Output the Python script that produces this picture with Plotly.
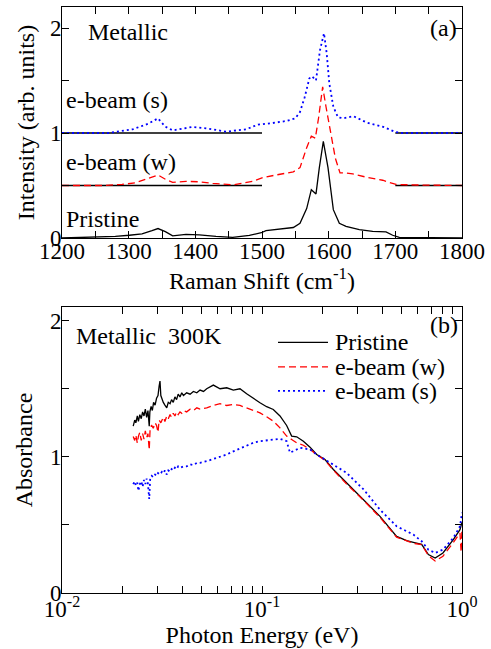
import plotly.graph_objects as go

# ---------------- Panel (a): Raman spectra (offset) ----------------
pristine_raman_x = [1200, 1250, 1280, 1301, 1320, 1335, 1344, 1355, 1366, 1386, 1406, 1431, 1456, 1481, 1499, 1506, 1521, 1541, 1547, 1557, 1567, 1574, 1581, 1586, 1592, 1599, 1607, 1616, 1626, 1646, 1666, 1686, 1696, 1706, 1756, 1800]
pristine_raman_y = [0.0, 0.005, 0.015, 0.026, 0.04, 0.07, 0.09, 0.06, 0.02, 0.035, 0.03, 0.015, 0.006, 0.026, 0.05, 0.07, 0.08, 0.09, 0.10, 0.14, 0.28, 0.46, 0.42, 0.67, 0.92, 0.67, 0.27, 0.14, 0.11, 0.08, 0.064, 0.058, 0.026, 0.006, 0.0, 0.0]

weak_raman_x = [1200, 1260, 1290, 1310, 1330, 1344, 1355, 1366, 1386, 1406, 1426, 1456, 1486, 1501, 1521, 1547, 1557, 1567, 1574, 1580, 1585, 1591, 1596, 1602, 1610, 1617, 1626, 1636, 1656, 1681, 1701, 1731, 1800]
weak_raman_y = [0.5, 0.5, 0.51, 0.525, 0.57, 0.60, 0.56, 0.53, 0.54, 0.535, 0.52, 0.506, 0.54, 0.575, 0.60, 0.63, 0.67, 0.86, 0.97, 0.95, 1.15, 1.44, 1.25, 1.05, 0.76, 0.62, 0.62, 0.61, 0.58, 0.55, 0.51, 0.505, 0.5]

strong_raman_x = [1200, 1270, 1306, 1330, 1344, 1355, 1366, 1381, 1396, 1416, 1446, 1476, 1494, 1516, 1537, 1550, 1557, 1564, 1571, 1575, 1581, 1587, 1593, 1597, 1601, 1607, 1614, 1622, 1637, 1657, 1682, 1700, 1710, 1800]
strong_raman_y = [1.0, 1.0, 1.035, 1.09, 1.14, 1.06, 1.025, 1.04, 1.058, 1.045, 1.013, 1.035, 1.08, 1.095, 1.115, 1.14, 1.20, 1.34, 1.52, 1.54, 1.50, 1.79, 1.95, 1.76, 1.47, 1.25, 1.15, 1.14, 1.16, 1.10, 1.058, 1.01, 1.0, 1.0]

baseline_x = [1200, 1500, None, 1700, 1800]
baseline_levels = [1.0, 0.5]

raman_ticks = [1200, 1300, 1400, 1500, 1600, 1700, 1800]

# ---------------- Panel (b): Absorbance ----------------
pristine_E = [0.0227, 0.0231, 0.0234, 0.0238, 0.0241, 0.0245, 0.0249, 0.0253, 0.0257, 0.0261, 0.0265, 0.0269, 0.0273, 0.0275, 0.0279, 0.0283, 0.0287, 0.0292, 0.0297, 0.0302, 0.0306, 0.0309, 0.0312, 0.0316, 0.0321, 0.0327, 0.0334, 0.0340, 0.0347, 0.0353, 0.0360, 0.0367, 0.0374, 0.0381, 0.0389, 0.0397, 0.0405, 0.0420, 0.0437, 0.0454, 0.0472, 0.0490, 0.0510, 0.0529, 0.0571, 0.0617, 0.0666, 0.0719, 0.0776, 0.0838, 0.0905, 0.0977, 0.1055, 0.1139, 0.1230, 0.1328, 0.1407, 0.1491, 0.1610, 0.1738, 0.1877, 0.2065, 0.2274, 0.265, 0.3223, 0.389, 0.471, 0.5289, 0.571, 0.6285, 0.679, 0.734, 0.803, 0.905, 0.977, 1.0]
pristine_A = [1.225, 1.27, 1.25, 1.30, 1.26, 1.31, 1.28, 1.33, 1.30, 1.35, 1.29, 1.34, 1.225, 1.33, 1.37, 1.34, 1.40, 1.38, 1.43, 1.45, 1.52, 1.556, 1.45, 1.42, 1.40, 1.38, 1.36, 1.40, 1.39, 1.42, 1.40, 1.44, 1.42, 1.46, 1.44, 1.47, 1.45, 1.47, 1.46, 1.48, 1.47, 1.49, 1.48, 1.50, 1.527, 1.50, 1.507, 1.49, 1.50, 1.463, 1.427, 1.397, 1.368, 1.348, 1.30, 1.23, 1.152, 1.147, 1.115, 1.071, 1.017, 0.98, 0.907, 0.81, 0.69, 0.563, 0.416, 0.385, 0.372, 0.357, 0.282, 0.257, 0.294, 0.392, 0.465, 0.52]

weak_E = [0.0227, 0.0231, 0.0234, 0.0238, 0.0241, 0.0245, 0.0249, 0.0253, 0.0257, 0.0261, 0.0265, 0.0269, 0.0273, 0.0276, 0.0281, 0.0286, 0.0292, 0.0297, 0.0302, 0.0306, 0.0312, 0.0321, 0.0327, 0.0334, 0.0340, 0.0347, 0.0353, 0.0360, 0.0367, 0.0374, 0.0381, 0.0389, 0.0397, 0.0405, 0.0420, 0.0437, 0.0454, 0.0472, 0.0490, 0.0529, 0.0571, 0.0617, 0.0666, 0.0719, 0.0776, 0.0838, 0.0905, 0.0977, 0.1055, 0.1139, 0.1230, 0.1328, 0.1407, 0.1491, 0.1610, 0.1738, 0.1877, 0.2065, 0.2274, 0.265, 0.3223, 0.389, 0.471, 0.5289, 0.571, 0.6285, 0.679, 0.734, 0.803, 0.905, 0.977, 0.99, 1.0]
weak_A = [1.15, 1.12, 1.16, 1.10, 1.15, 1.18, 1.12, 1.17, 1.13, 1.19, 1.14, 1.17, 1.05, 1.22, 1.23, 1.21, 1.25, 1.23, 1.18, 1.27, 1.25, 1.29, 1.26, 1.30, 1.28, 1.31, 1.29, 1.32, 1.30, 1.33, 1.31, 1.33, 1.32, 1.34, 1.33, 1.35, 1.34, 1.36, 1.35, 1.36, 1.377, 1.39, 1.377, 1.385, 1.377, 1.36, 1.343, 1.323, 1.294, 1.262, 1.213, 1.152, 1.127, 1.103, 1.085, 1.055, 1.015, 0.975, 0.902, 0.80, 0.68, 0.555, 0.41, 0.38, 0.365, 0.355, 0.275, 0.235, 0.27, 0.37, 0.44, 0.30, 0.48]

strong_E = [0.0227, 0.0231, 0.0234, 0.0238, 0.0241, 0.0245, 0.0249, 0.0253, 0.0257, 0.0261, 0.0265, 0.0269, 0.0273, 0.0276, 0.0281, 0.0286, 0.0292, 0.0297, 0.0302, 0.0309, 0.0316, 0.0321, 0.0327, 0.0334, 0.0340, 0.0347, 0.0353, 0.0360, 0.0367, 0.0374, 0.0381, 0.0389, 0.0405, 0.0420, 0.0437, 0.0454, 0.0472, 0.0490, 0.0529, 0.0571, 0.0617, 0.0666, 0.0719, 0.0776, 0.0838, 0.0905, 0.0977, 0.1055, 0.1139, 0.1230, 0.1328, 0.138, 0.155, 0.174, 0.1877, 0.2188, 0.265, 0.3223, 0.389, 0.471, 0.571, 0.6285, 0.679, 0.734, 0.803, 0.905, 0.977, 1.0]
strong_A = [0.80, 0.82, 0.79, 0.81, 0.75, 0.80, 0.82, 0.78, 0.83, 0.80, 0.84, 0.80, 0.69, 0.84, 0.86, 0.85, 0.87, 0.86, 0.88, 0.87, 0.89, 0.88, 0.90, 0.87, 0.90, 0.89, 0.91, 0.90, 0.92, 0.91, 0.93, 0.92, 0.93, 0.93, 0.945, 0.94, 0.955, 0.956, 0.968, 0.985, 1.005, 1.017, 1.04, 1.061, 1.078, 1.103, 1.115, 1.12, 1.127, 1.132, 1.115, 1.03, 1.066, 1.054, 1.017, 0.956, 0.882, 0.76, 0.612, 0.49, 0.429, 0.38, 0.318, 0.294, 0.318, 0.404, 0.49, 0.59]

energy_major = [0.01, 0.1, 1.0]
energy_major_text = ["10<sup>-2</sup>", "10<sup>-1</sup>", "10<sup>0</sup>"]
energy_minor = [0.02, 0.03, 0.04, 0.05, 0.06, 0.07, 0.08, 0.09, 0.2, 0.3, 0.4, 0.5, 0.6, 0.7, 0.8, 0.9]

labels = ["Pristine", "e-beam (w)", "e-beam (s)"]
colors = ["black", "#ff0000", "#0000ff"]
dashes = ["solid", "7px,4px", "2px,3px"]
widths = [1.3, 1.3, 1.8]

SERIF = "Liberation Serif"
TXT = 24

fig = go.Figure()

# panel (a)
for bl in baseline_levels:
    fig.add_trace(go.Scatter(x=baseline_x, y=[bl, bl, None, bl, bl], mode="lines",
                             line=dict(color="black", width=1.3), showlegend=False,
                             xaxis="x", yaxis="y", hoverinfo="skip"))
for xs, ys, c, d, w in zip([pristine_raman_x, weak_raman_x, strong_raman_x],
                           [pristine_raman_y, weak_raman_y, strong_raman_y],
                           colors, dashes, widths):
    fig.add_trace(go.Scatter(x=xs, y=ys, mode="lines", line=dict(color=c, dash=d, width=w),
                             showlegend=False, xaxis="x", yaxis="y"))

# panel (b)
for xs, ys, c, d, w, n in zip([pristine_E, weak_E, strong_E], [pristine_A, weak_A, strong_A],
                              colors, dashes, widths, labels):
    fig.add_trace(go.Scatter(x=xs, y=ys, mode="lines", name=n, showlegend=False,
                             line=dict(color=c, dash=d, width=w),
                             xaxis="x2", yaxis="y2"))

# legend for panel (b), drawn as key lines + labels inside the plot area
legend_rows_y = [1.84, 1.66, 1.485]
legend_line_x = [10 ** -0.92, 10 ** -0.67]
legend_text_x = -0.645
for n, c, d, w, ly in zip(labels, colors, dashes, widths, legend_rows_y):
    fig.add_trace(go.Scatter(x=legend_line_x, y=[ly, ly], mode="lines", showlegend=False,
                             line=dict(color=c, dash=d, width=w), xaxis="x2", yaxis="y2",
                             hoverinfo="skip"))

def axstyle(**kw):
    d = dict(showline=True, linecolor="black", linewidth=1, mirror="allticks",
             ticks="inside", ticklen=7, tickcolor="black", tickwidth=1,
             showgrid=False, zeroline=False,
             tickfont=dict(family=SERIF, size=23, color="black"))
    d.update(kw)
    return d

minor_style = dict(ticks="inside", ticklen=7, tickcolor="black", tickwidth=1, showgrid=False)

annotations = [
    dict(text="Metallic", x=1236, y=1.96, xref="x", yref="y"),
    dict(text="e-beam (s)", x=1203, y=1.31, xref="x", yref="y"),
    dict(text="e-beam (w)", x=1203, y=0.72, xref="x", yref="y"),
    dict(text="Pristine", x=1203, y=0.18, xref="x", yref="y"),
    dict(text="(a)", x=1796, y=2.0, xref="x", yref="y", xanchor="right"),
    dict(text="Metallic  300K", x=-1.94, y=1.885, xref="x2", yref="y2"),
    dict(text="(b)", x=-0.01, y=1.97, xref="x2", yref="y2", xanchor="right"),
]
for n, ly in zip(labels, legend_rows_y):
    annotations.append(dict(text=n, x=legend_text_x, y=ly, xref="x2", yref="y2"))
for a in annotations:
    a.setdefault("xanchor", "left")
    a["showarrow"] = False
    a["font"] = dict(family=SERIF, size=TXT, color="black")

fig.update_layout(
    width=491, height=649,
    margin=dict(l=62, r=29, t=7, b=56),
    paper_bgcolor="white", plot_bgcolor="white",
    font=dict(family=SERIF, size=23, color="black"),
    showlegend=False,
    xaxis=axstyle(domain=[0, 1], range=[1200, 1800], tickmode="array", tickvals=raman_ticks,
                  minor=dict(dtick=50, **minor_style), anchor="y", ticklabelstandoff=-8,
                  title=dict(text="Raman Shift (cm<sup>-1</sup>)", font=dict(family=SERIF, size=TXT), standoff=2)),
    yaxis=axstyle(domain=[0.6058, 1.0], range=[0, 2.2], tickmode="array", tickvals=[0, 1, 2],
                  minor=dict(dtick=0.5, **minor_style), anchor="x", ticklabelstandoff=-5,
                  title=dict(text="Intensity (arb. units)", font=dict(family=SERIF, size=TXT), standoff=8)),
    xaxis2=axstyle(domain=[0, 1], type="log", range=[-2, 0], tickmode="array",
                   tickvals=energy_major, ticktext=energy_major_text, ticklabelstandoff=-5,
                   minor=dict(tickmode="array", tickvals=energy_minor, **minor_style), anchor="y2",
                   title=dict(text="Photon Energy (eV)", font=dict(family=SERIF, size=TXT), standoff=2)),
    yaxis2=axstyle(domain=[0, 0.488], range=[0, 2.1], tickmode="array", tickvals=[0, 1, 2],
                   minor=dict(dtick=0.5, **minor_style), anchor="x2", ticklabelstandoff=-5,
                   title=dict(text="Absorbance", font=dict(family=SERIF, size=TXT), standoff=10)),
    annotations=annotations,
)

fig.write_html("out.html", config={"displayModeBar": False},
               post_script="document.body.style.margin='0';document.body.style.overflow='hidden';")
